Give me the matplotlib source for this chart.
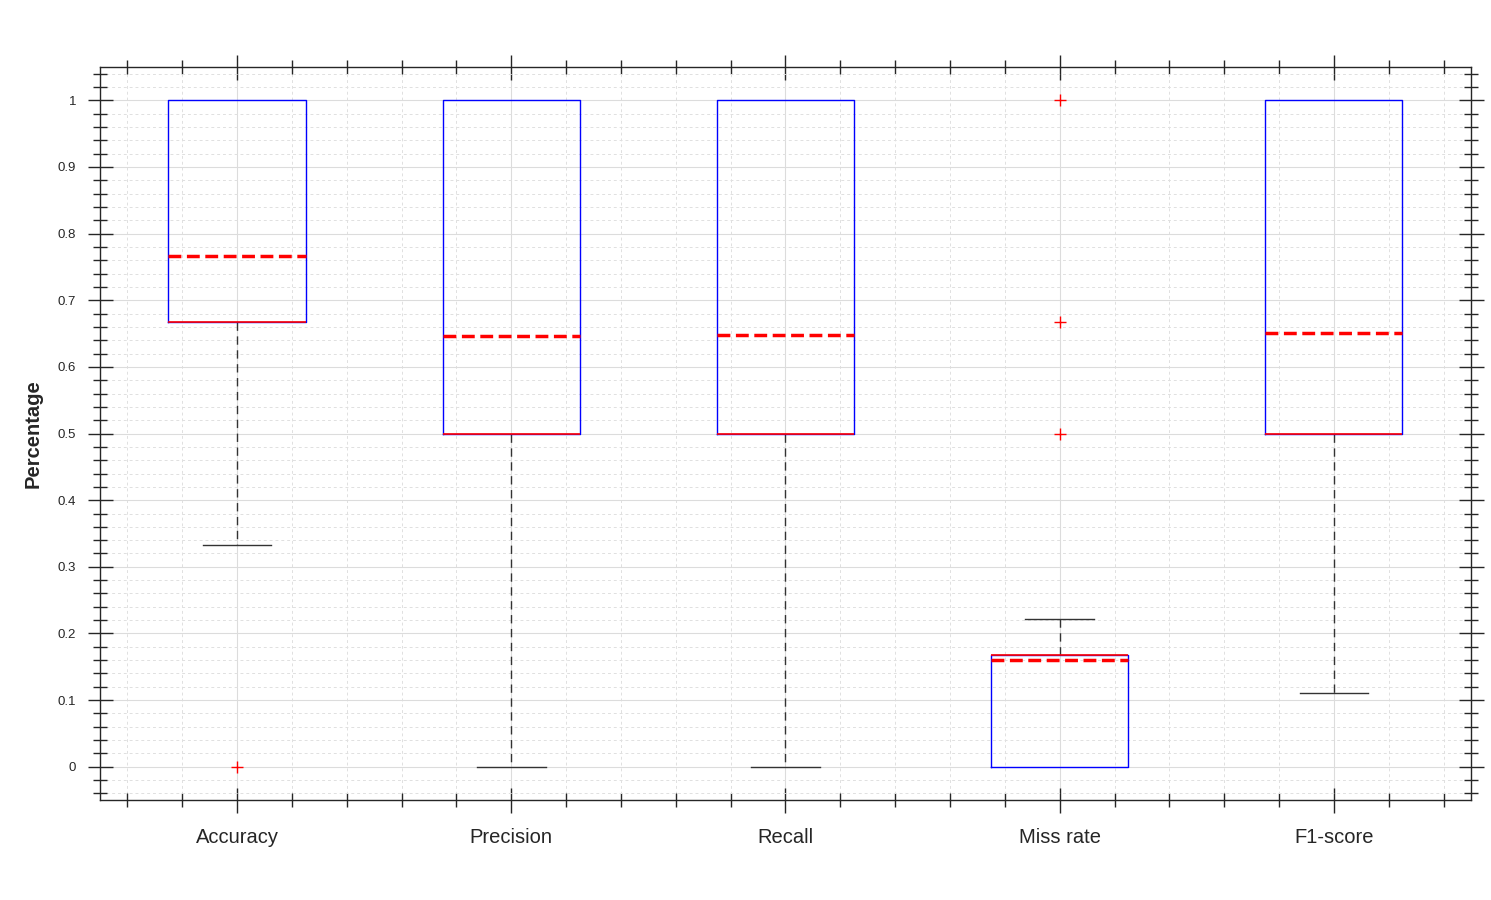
import numpy as np
import matplotlib.pyplot as plt
from matplotlib.ticker import MultipleLocator, FuncFormatter

plt.rcParams['font.family'] = ['Liberation Sans', 'DejaVu Sans']

# values
metrics = ['Accuracy', 'Precision', 'Recall', 'Miss rate', 'F1-score']
q1 = [0.667, 0.5, 0.5, 0.0, 0.5]
median = [0.667, 0.5, 0.5, 0.167, 0.5]
q3 = [1.0, 1.0, 1.0, 0.167, 1.0]
whisker_low = [0.333, 0.0, 0.0, 0.0, 0.111]
whisker_high = [1.0, 1.0, 1.0, 0.222, 1.0]
means = [0.766, 0.646, 0.648, 0.160, 0.651]
outliers = [[0.0], [], [], [0.5, 0.667, 1.0], []]

stats = []
for i, name in enumerate(metrics):
    stats.append({
        'label': name,
        'q1': q1[i], 'med': median[i], 'q3': q3[i],
        'whislo': whisker_low[i], 'whishi': whisker_high[i],
        'mean': means[i], 'fliers': np.array(outliers[i]),
    })

fig = plt.figure(figsize=(14.91, 9), dpi=100)
ax = fig.add_axes([0.067, 0.111, 0.9196, 0.8146])

parts = ax.bxp(
    stats, positions=range(1, 6), widths=0.5,
    showmeans=True, meanline=True,
    boxprops=dict(color='blue', linewidth=1, zorder=4),
    medianprops=dict(color='red', linewidth=1.2, zorder=5),
    meanprops=dict(color='red', linestyle='--', linewidth=2.5, zorder=6),
    whiskerprops=dict(color='#333333', linestyle=(0, (6, 4)), linewidth=1, zorder=2),
    capprops=dict(color='#333333', linewidth=1, zorder=3),
    capwidths=0.25,
    flierprops=dict(marker='+', markeredgecolor='red', markersize=8, linestyle='none'),
)

# caps that sit on a box edge are hidden behind the box in the original
for i in range(len(metrics)):
    lo_cap, hi_cap = parts['caps'][2 * i], parts['caps'][2 * i + 1]
    if whisker_low[i] == q1[i]:
        lo_cap.set_visible(False)
    if whisker_high[i] == q3[i]:
        hi_cap.set_visible(False)

ax.set_xlim(0.5, 5.5)
ax.set_ylim(-0.05, 1.05)
ax.yaxis.set_major_locator(MultipleLocator(0.1))
ax.yaxis.set_minor_locator(MultipleLocator(0.02))
ax.xaxis.set_minor_locator(MultipleLocator(0.2))
ax.yaxis.set_major_formatter(FuncFormatter(lambda v, p: f'{v:.1f}'.rstrip('0').rstrip('.') if abs(v) > 1e-9 else '0'))

ax.tick_params(which='both', direction='inout', top=True, right=True, colors='#262626')
ax.tick_params(which='major', length=18, width=1)
ax.tick_params(which='minor', length=10, width=1)
ax.tick_params(axis='y', which='major', labelsize=9.5, pad=8)
ax.tick_params(axis='x', which='major', labelsize=14.5, pad=11)

ax.grid(which='major', color='#dcdcdc', linewidth=0.8)
ax.grid(which='minor', color='#e0e0e0', linestyle=(0, (3, 3)), linewidth=0.7)
ax.set_axisbelow(True)

for s in ax.spines.values():
    s.set_color('#262626')
    s.set_linewidth(1)

ax.set_ylabel('Percentage', fontsize=14.5, fontweight='bold', color='#262626', labelpad=11)

fig.savefig('out.png', dpi=100)
